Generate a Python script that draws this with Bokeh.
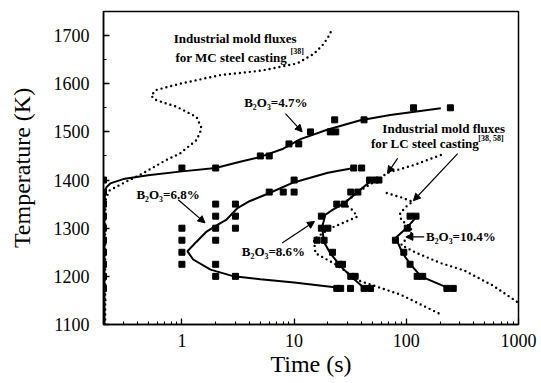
from bokeh.plotting import figure
from bokeh.models import Range1d, FixedTicker, NumeralTickFormatter, Label, Arrow, NormalHead
from bokeh.embed import file_html
from bokeh.resources import INLINE

# ---------------- data ----------------
# points at the left edge (t <= 0.2 s)
x_edge = [0.2, 0.2, 0.2, 0.2, 0.2, 0.2, 0.2, 0.2, 0.2]
t_edge = [1175, 1200, 1225, 1250, 1275, 1300, 1325, 1350, 1375]

# B2O3 = 4.7 %
x47 = [0.2, 1, 2, 5, 6, 9, 11, 14, 21, 23, 23.5, 42, 116, 247]
t47 = [1400, 1425, 1425, 1450, 1450, 1475, 1475, 1500, 1500, 1525, 1500, 1525, 1550, 1550]
l47_x = [0.204, 0.204, 0.206, 0.212, 0.23, 0.3, 0.5, 1, 2, 3.3, 5, 8, 11.4, 20, 39, 72, 203]
l47_t = [1100, 1350, 1372, 1385, 1393, 1402, 1410, 1418, 1425, 1438, 1448, 1465, 1485, 1505, 1524, 1535, 1549]

# B2O3 = 6.8 %
x68 = [1, 1, 1, 1, 2, 2, 2, 2, 2, 2, 3, 3, 3, 3, 6, 8, 10, 10, 34, 40, 24, 26, 31.8]
t68 = [1300, 1275, 1250, 1225, 1350, 1325, 1300, 1275, 1225, 1200, 1350, 1325, 1300, 1200,
       1375, 1375, 1400, 1375, 1425, 1425, 1175, 1175, 1175]
l68_x = [24, 10, 5, 2.9, 1.8, 1.26, 1.12, 1.35, 1.66, 2.0, 2.5, 3.1, 4.0, 5.9, 9.9, 20, 34]
l68_t = [1177, 1187, 1194, 1200, 1214, 1235, 1252, 1272, 1293, 1305, 1318, 1341, 1356, 1372, 1395, 1415, 1425]

# B2O3 = 8.6 %
x86 = [57, 53, 47, 37, 32, 28, 24, 17.5, 17.5, 20, 16, 18.5, 22, 25, 27, 32, 35, 42, 48]
t86 = [1400, 1400, 1400, 1375, 1375, 1350, 1350, 1325, 1300, 1300, 1275, 1275, 1250, 1225, 1225,
       1200, 1200, 1175, 1175]
l86_x = [51.5, 38, 28, 22, 19, 17.8, 18.4, 21, 26, 32, 40.6, 45]
l86_t = [1403, 1378, 1352, 1338, 1328, 1303, 1272, 1248, 1221, 1200, 1179, 1172]

# B2O3 = 10.4 %
x104 = [108, 122, 102, 80, 95, 108, 125, 140, 230, 262]
t104 = [1325, 1325, 1300, 1275, 1250, 1225, 1200, 1200, 1175, 1175]
l104_x = [125, 101, 80.6, 92.6, 110, 135, 235, 262]
l104_t = [1325, 1301, 1280, 1248, 1224, 1200, 1176, 1173]

# industrial mold fluxes (dotted)
mc_x = [0.207, 0.207, 0.21, 0.225, 0.28, 0.45, 0.73, 0.96, 1.35, 1.5, 1.35, 0.9, 0.59, 0.53, 0.59,
        0.96, 2.2, 5, 7.5, 10.6, 15, 18.4, 21, 21.6]
mc_t = [1100, 1330, 1360, 1378, 1390, 1414, 1442, 1455, 1483, 1507, 1531, 1552, 1566, 1575, 1587,
        1600, 1618, 1627, 1635, 1642, 1662, 1683, 1704, 1714]
lc1_x = [203, 120, 68, 55, 40, 27.6, 33, 36.6, 28, 21, 15, 15.5, 22.6, 39, 89, 203]
lc1_t = [1452, 1432, 1415, 1400, 1380, 1352, 1338, 1324, 1312, 1300, 1277, 1248, 1227, 1190, 1162, 1121]
lc2_x = [67, 90, 114, 100, 88, 90, 105, 114, 100, 90, 120, 200, 330, 600, 1000]
lc2_t = [1373, 1364, 1355, 1345, 1331, 1317, 1305, 1293, 1278, 1265, 1250, 1228, 1212, 1180, 1145]

x_ticks = [1, 10, 100, 1000]
y_ticks = [1100, 1200, 1300, 1400, 1500, 1600, 1700]

# ---------------- figure ----------------
SERIF = "Liberation Serif"
p = figure(width=541, height=383, x_axis_type="log",
           x_range=Range1d(0.2, 1000), y_range=Range1d(1100, 1750),
           output_backend="svg", toolbar_location=None,
           min_border_left=103, min_border_right=23, min_border_top=11, min_border_bottom=59)
p.grid.visible = False
p.outline_line_color = "black"
p.outline_line_width = 1.5
p.background_fill_color = "white"
p.border_fill_color = "white"

minor_x = [m * 10 ** e for e in range(-1, 3) for m in range(2, 10)]
p.xaxis.ticker = FixedTicker(ticks=x_ticks, minor_ticks=minor_x)
p.xaxis.formatter = NumeralTickFormatter(format="0")
p.yaxis.ticker = FixedTicker(ticks=y_ticks, minor_ticks=[v + 50 for v in y_ticks])

for ax in (p.xaxis[0], p.yaxis[0]):
    ax.axis_line_width = 1.5
    ax.major_tick_in = 6
    ax.major_tick_out = 0
    ax.minor_tick_in = 3
    ax.minor_tick_out = 0
    ax.major_tick_line_width = 1.3
    ax.minor_tick_line_width = 1.1
    ax.major_label_text_font = SERIF
    ax.major_label_text_font_size = "18px"
    ax.major_label_text_color = "black"
    ax.axis_label_text_font = SERIF
    ax.axis_label_text_font_size = "24px"
    ax.axis_label_text_font_style = "normal"
    ax.axis_label_text_color = "black"

p.xaxis.axis_label = "Time (s)"
p.yaxis.axis_label = "Temperature (K)"
p.xaxis.major_label_standoff = 9
p.yaxis.major_label_standoff = 14
p.xaxis.axis_label_standoff = 1
p.yaxis.axis_label_standoff = 16

# ---------------- curves ----------------
dot = dict(line_color="black", line_width=2.4, line_dash="0 5", line_cap="round")
p.line(mc_x, mc_t, **dot)
p.line(lc1_x, lc1_t, **dot)
p.line(lc2_x, lc2_t, **dot)

sol = dict(line_color="black", line_width=2)
p.line(l47_x, l47_t, **sol)
p.line(l68_x, l68_t, **sol)
p.line(l86_x, l86_t, **sol)
p.line(l104_x, l104_t, **sol)

mk = dict(size=6, color="black")
p.scatter(x_edge, t_edge, marker="square", **mk)
p.scatter(x47, t47, marker="square", **mk)
p.scatter(x68, t68, marker="square", **mk)
p.scatter(x86, t86, marker="square", **mk)
p.scatter(x104, t104, marker="square", **mk)

# ---------------- annotations ----------------
def lab(x, y, text, size="13px", align="left", bold=True):
    p.add_layout(Label(x=x, y=y, text=text, text_font=SERIF, text_font_size=size,
                       text_font_style="bold" if bold else "normal", text_align=align,
                       text_baseline="middle", text_color="black"))

lab(2.98, 1694, "Industrial mold fluxes", align="center")
lab(2.75, 1655, "for MC steel casting", align="center")
lab(9.3, 1667, "[38]", size="8px")

lab(215.6, 1507, "Industrial mold fluxes", align="center")
lab(146.7, 1476, "for LC steel casting", align="center")
lab(437.6, 1487, "[38, 58]", size="8px")

lab(3.59, 1560, "B\u2082O\u2083=4.7%", size="13px")
lab(0.393, 1369, "B\u2082O\u2083=6.8%", size="13px")
lab(3.42, 1252, "B\u2082O\u2083=8.6%", size="13px")
lab(149.8, 1283, "B\u2082O\u2083=10.4%", size="13px")

def arrow(xs, ys, xe, ye):
    p.add_layout(Arrow(end=NormalHead(size=7, fill_color="black", line_color="black"),
                       x_start=xs, y_start=ys, x_end=xe, y_end=ye,
                       line_color="black", line_width=1.2))

arrow(8.37, 1538, 11.8, 1500)
arrow(0.927, 1359, 1.607, 1311)
arrow(7.82, 1269, 15.2, 1314)
arrow(144.4, 1282, 99.1, 1282)
arrow(83.7, 1445, 67.9, 1414)
arrow(287, 1455, 115.7, 1357)

open("out.html", "w").write(file_html(p, INLINE))
